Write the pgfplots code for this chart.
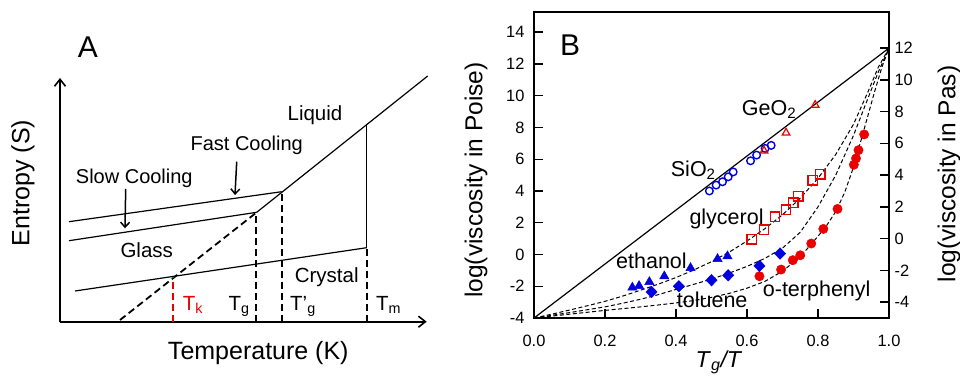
\documentclass[border=0pt]{standalone}
\usepackage{pgfplots}
\pgfplotsset{compat=1.18}
\usepackage{fontspec}
\setmainfont{Liberation Sans}
\usetikzlibrary{arrows.meta}
\definecolor{myblue}{RGB}{0,0,225}
\definecolor{myred}{RGB}{235,0,0}
\begin{document}
\begin{tikzpicture}[x=1bp,y=1bp]
\useasboundingbox (0,0) rectangle (960,378);

% ---------------- Panel A ----------------
\begin{axis}[at={(60bp,56.3bp)}, anchor=south west, scale only axis,
  width=366.7bp, height=243.7bp, xmin=0, xmax=366.7, ymin=0, ymax=243.7,
  axis lines=left, ticks=none, clip=false,
  axis line style={line width=1.6bp,-{Straight Barb[length=7bp,width=11bp]}},
  every outer x axis line/.append style={-{Straight Barb[length=7bp,width=11bp]}},
  every outer y axis line/.append style={-{Straight Barb[length=7bp,width=11bp]}}]
% liquid line
\addplot[black, line width=1.2bp] coordinates {(196.7,109.4) (367.7,245.7)};
\addplot[black, line width=1.8bp, dash pattern=on 7bp off 4bp] coordinates {(60,1.7) (196.7,109.4)};
% glass lines
\addplot[black, line width=1.2bp] coordinates {(9,100) (221.7,130)};
\addplot[black, line width=1.2bp] coordinates {(9,81) (196.7,109.4)};
% crystal
\addplot[black, line width=1.2bp] coordinates {(15,30.7) (306.7,74)};
% Tm
\addplot[black, line width=1.2bp] coordinates {(306.7,74) (306.7,197.1)};
\addplot[black, line width=1.8bp, dash pattern=on 7bp off 4bp] coordinates {(306.7,0) (306.7,74)};
% Tg, T'g
\addplot[black, line width=1.8bp, dash pattern=on 7bp off 4bp] coordinates {(196,0) (196,109.4)};
\addplot[black, line width=1.8bp, dash pattern=on 7bp off 4bp] coordinates {(221.7,0) (221.7,130)};
% Tk
\addplot[myred, line width=1.8bp, dash pattern=on 7bp off 4bp] coordinates {(113.3,0) (113.3,45)};
% cooling arrows
\addplot[black, line width=1.5bp, -{Straight Barb[length=5bp,width=9bp]}] coordinates {(176.7,160) (175,126.7)};
\addplot[black, line width=1.5bp, -{Straight Barb[length=5bp,width=9bp]}] coordinates {(65.7,132.7) (65,93.4)};
\end{axis}

\node[font=\fontsize{30bp}{34bp}\selectfont] at (88,331.3) {A};
\node[font=\fontsize{20.5bp}{24bp}\selectfont] at (315,263) {Liquid};
\node[font=\fontsize{20bp}{24bp}\selectfont] at (246.7,232.3) {Fast Cooling};
\node[font=\fontsize{20bp}{24bp}\selectfont] at (134.3,199.7) {Slow Cooling};
\node[font=\fontsize{20.5bp}{24bp}\selectfont] at (146.7,128) {Glass};
\node[font=\fontsize{20.5bp}{24bp}\selectfont] at (326.7,101.3) {Crystal};
\node[anchor=base west, inner sep=0pt, text=myred, font=\fontsize{20.5bp}{24bp}\selectfont] at (182.7,68) {T\textsubscript{k}};
\node[anchor=base west, inner sep=0pt, font=\fontsize{20.5bp}{24bp}\selectfont] at (228.3,68) {T\textsubscript{g}};
\node[anchor=base west, inner sep=0pt, font=\fontsize{20.5bp}{24bp}\selectfont] at (290,68) {T'\textsubscript{g}};
\node[anchor=base west, inner sep=0pt, font=\fontsize{20.5bp}{24bp}\selectfont] at (376,68) {T\textsubscript{m}};
\node[rotate=90, font=\fontsize{25bp}{28bp}\selectfont] at (23,195) {Entropy (S)};
\node[font=\fontsize{25bp}{28bp}\selectfont] at (258.3,24.7) {Temperature (K)};

% ---------------- Panel B ----------------
\begin{axis}[at={(534bp,60bp)}, anchor=south west, scale only axis,
  width=355bp, height=306bp, xmin=0, xmax=1, ymin=-4, ymax=15.27,
  xtick={0,0.2,0.4,0.6,0.8,1.0}, xticklabels={0.0,0.2,0.4,0.6,0.8,1.0},
  ytick={-4,-2,0,2,4,6,8,10,12,14}, yticklabels={-4,-2,0,2,4,6,8,10,12,14},
  tick align=inside, xtick pos=bottom, ytick pos=left, major tick length=9bp,
  axis line style={line width=1.6bp}, every tick/.style={black,line width=1.4bp},
  tick label style={font=\fontsize{16.4bp}{18bp}\selectfont},
  xticklabel style={yshift=-14bp}, yticklabel style={xshift=-6bp}, clip=false]
\addplot[black, line width=1.2bp] coordinates {(0,-4) (1,13)};
% dashed fits
\addplot[black, line width=1bp, dash pattern=on 4bp off 2.5bp] coordinates {(0,-4) (0.05,-3.76) (0.1,-3.5) (0.15,-3.23) (0.2,-2.95) (0.25,-2.62) (0.3,-2.25) (0.35,-1.87) (0.4,-1.45) (0.45,-0.98) (0.5,-0.45) (0.55,0.15) (0.6,0.85) (0.65,1.62) (0.7,2.5) (0.75,3.55) (0.8,4.8) (0.85,6.3) (0.9,8.2) (0.94,10.2) (0.97,11.8) (1,13)};
\addplot[black, line width=1bp, dash pattern=on 4bp off 2.5bp] coordinates {(0,-4) (0.05,-3.83) (0.1,-3.66) (0.15,-3.48) (0.2,-3.3) (0.25,-3.07) (0.3,-2.82) (0.35,-2.53) (0.4,-2.2) (0.45,-1.88) (0.5,-1.55) (0.55,-1.17) (0.6,-0.75) (0.65,-0.25) (0.7,0.4) (0.75,1.4) (0.8,3.0) (0.85,5.0) (0.9,7.5) (0.94,9.8) (0.97,11.5) (1,13)};
\addplot[black, line width=1bp, dash pattern=on 4bp off 2.5bp] coordinates {(0,-4) (0.05,-3.88) (0.1,-3.76) (0.15,-3.64) (0.2,-3.52) (0.25,-3.41) (0.3,-3.3) (0.35,-3.18) (0.4,-3.05) (0.45,-2.9) (0.5,-2.7) (0.55,-2.45) (0.6,-2.12) (0.65,-1.7) (0.7,-1.05) (0.75,-0.15) (0.8,1.15) (0.825,1.85) (0.85,2.7) (0.875,3.9) (0.9,5.5) (0.93,7.9) (0.96,10.3) (0.98,11.8) (1,13)};
% SiO2
\addplot[only marks, mark=o, mark size=3.8bp, myblue, line width=1.4bp] coordinates {(0.494,4.0) (0.513,4.37) (0.531,4.58) (0.547,4.89) (0.561,5.2) (0.610,5.9) (0.627,6.26) (0.651,6.68) (0.668,6.87)};
% GeO2
\addplot[only marks, mark=triangle, mark size=4.4bp, myred, line width=1.2bp] coordinates {(0.648,6.53) (0.710,7.66) (0.792,9.41)};
% glycerol
\addplot[only marks, mark=square, mark size=4.7bp, myred, line width=1.4bp] coordinates {(0.613,0.95) (0.648,1.57) (0.679,2.37) (0.710,2.83) (0.730,3.25) (0.745,3.67) (0.785,4.68) (0.806,5.06)};
% o-terphenyl
\addplot[only marks, mark=*, mark size=4.7bp, myred] coordinates {(0.635,-1.37) (0.696,-0.95) (0.729,-0.36) (0.750,-0.05) (0.781,0.69) (0.815,1.61) (0.855,2.87) (0.901,5.65) (0.907,6.05) (0.914,6.57) (0.930,7.56)};
% toluene
\addplot[only marks, mark=diamond*, mark size=5.8bp, mark options={xscale=1.3}, myblue] coordinates {(0.331,-2.36) (0.408,-2.0) (0.500,-1.62) (0.547,-1.31) (0.635,-0.72) (0.693,0.06)};
% ethanol
\addplot[only marks, mark=triangle*, mark size=5.4bp, myblue] coordinates {(0.277,-2.08) (0.296,-1.98) (0.325,-1.73) (0.367,-1.37) (0.441,-0.85) (0.517,-0.28) (0.545,-0.11)};
\end{axis}

\begin{axis}[at={(534bp,60bp)}, anchor=south west, scale only axis,
  width=355bp, height=306bp, xmin=0, xmax=1, ymin=-5, ymax=14.27,
  axis x line=none, axis y line*=right, y axis line style={draw=none},
  ytick={-4,-2,0,2,4,6,8,10,12}, yticklabels={-4,-2,0,2,4,6,8,10,12},
  tick align=inside, ytick pos=right, major tick length=9bp,
  every tick/.style={black,line width=1.4bp},
  tick label style={font=\fontsize{16.4bp}{18bp}\selectfont},
  yticklabel style={xshift=2bp}]
\addplot[draw=none] coordinates {(0,0) (1,0)};
\end{axis}

\node[font=\fontsize{30bp}{34bp}\selectfont] at (570,333) {B};
\node[anchor=base west, inner sep=0pt, font=\fontsize{21.5bp}{24bp}\selectfont] at (741.7,263) {GeO\textsubscript{2}};
\node[anchor=base west, inner sep=0pt, font=\fontsize{21.5bp}{24bp}\selectfont] at (670.7,202) {SiO\textsubscript{2}};
\node[anchor=base west, inner sep=0pt, font=\fontsize{21.5bp}{24bp}\selectfont] at (689.3,154) {glycerol};
\node[anchor=base west, inner sep=0pt, font=\fontsize{21.5bp}{24bp}\selectfont] at (616,109.7) {ethanol};
\node[anchor=base west, inner sep=0pt, font=\fontsize{21.5bp}{24bp}\selectfont] at (676.7,70.7) {toluene};
\node[anchor=base west, inner sep=0pt, font=\fontsize{21.5bp}{24bp}\selectfont] at (762.7,82) {o-terphenyl};
\node[rotate=90, font=\fontsize{24.5bp}{28bp}\selectfont] at (476,198) {log(viscosity in Poise)};
\node[rotate=90, font=\fontsize{24.5bp}{28bp}\selectfont] at (949,204) {log(viscosity in Pas)};
\node[anchor=base, font=\fontsize{23bp}{26bp}\selectfont] at (719,11) {\textit{T}\textsubscript{\textit{g}}\textit{/T}};
\end{tikzpicture}
\end{document}
